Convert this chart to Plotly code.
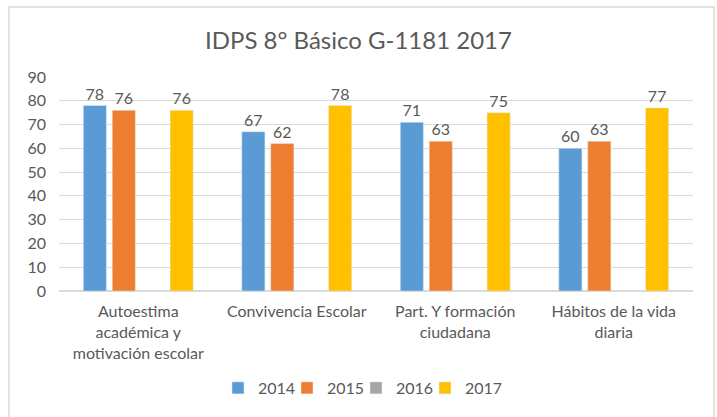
import plotly.graph_objects as go

categories = ["Autoestima<br>académica y<br>motivación escolar", "Convivencia Escolar",
              "Part. Y formación<br>ciudadana", "Hábitos de la vida<br>diaria"]
series_names = ["2014", "2015", "2016", "2017"]
v2014 = [78, 67, 71, 60]
v2015 = [76, 62, 63, 63]
v2016 = [None, None, None, None]
v2017 = [76, 78, 75, 77]
colors = ["#5B9BD5", "#ED7D31", "#A5A5A5", "#FFC000"]

FONT = "Lato"
GREY = "#595959"

fig = go.Figure()
for name, vals, col in zip(series_names, [v2014, v2015, v2016, v2017], colors):
    fig.add_trace(go.Bar(
        x=categories, y=vals, name=name, marker_color=col,
        text=[("" if v is None else str(v)) for v in vals],
        textposition="outside", textfont=dict(size=16, color=GREY, family=FONT),
        cliponaxis=False,
    ))
# invisible spacer legend entry so the last real entry is not clipped
fig.add_trace(go.Scatter(x=[None], y=[None], name="", mode="markers",
                         marker=dict(color="rgba(0,0,0,0)"), hoverinfo="skip"))

W, H = 717, 417
ml, mr, mt, mb = 59, 24, 77, 126
pw, ph = W - ml - mr, H - mt - mb

fig.update_layout(
    width=W, height=H,
    margin=dict(l=ml, r=mr, t=mt, b=mb),
    paper_bgcolor="white", plot_bgcolor="white",
    barmode="group", bargap=0.27, bargroupgap=0.2,
    title=dict(text="IDPS 8° Básico G-1181 2017", x=0.5, xref="container",
               y=1 - 41 / H, yanchor="middle",
               font=dict(size=24, color=GREY, family=FONT)),
    font=dict(family=FONT, color=GREY, size=16),
    showlegend=True,
    legend=dict(orientation="h", xref="container", x=218 / W, xanchor="left",
                yref="container", y=1 - 388 / H, yanchor="middle",
                font=dict(size=16, color=GREY, family=FONT),
                entrywidth=24, entrywidthmode="pixels", traceorder="normal"),
    yaxis=dict(range=[0, 90], dtick=10, showgrid=True, gridcolor="#D9D9D9",
               zeroline=True, zerolinecolor="#D9D9D9", showline=False,
               tickfont=dict(size=16, color=GREY), ticks="", ticklen=0,
               ticklabelstandoff=12, automargin=False),
    xaxis=dict(showline=True, linecolor="#D9D9D9", ticks="",
               tickfont=dict(size=16, color=GREY), tickangle=0,
               ticklabelstandoff=6, automargin=False),
    shapes=[dict(type="rect", xref="paper", yref="paper",
                 x0=(9 - ml) / pw, x1=(714 - ml) / pw,
                 y0=(H - mb - 425) / ph, y1=(H - mb - 7) / ph,
                 line=dict(color="#D9D9D9", width=1.5), layer="below")],
)

fig.write_html("out.html", config={"displayModeBar": False},
               post_script="document.body.style.margin='0';")
